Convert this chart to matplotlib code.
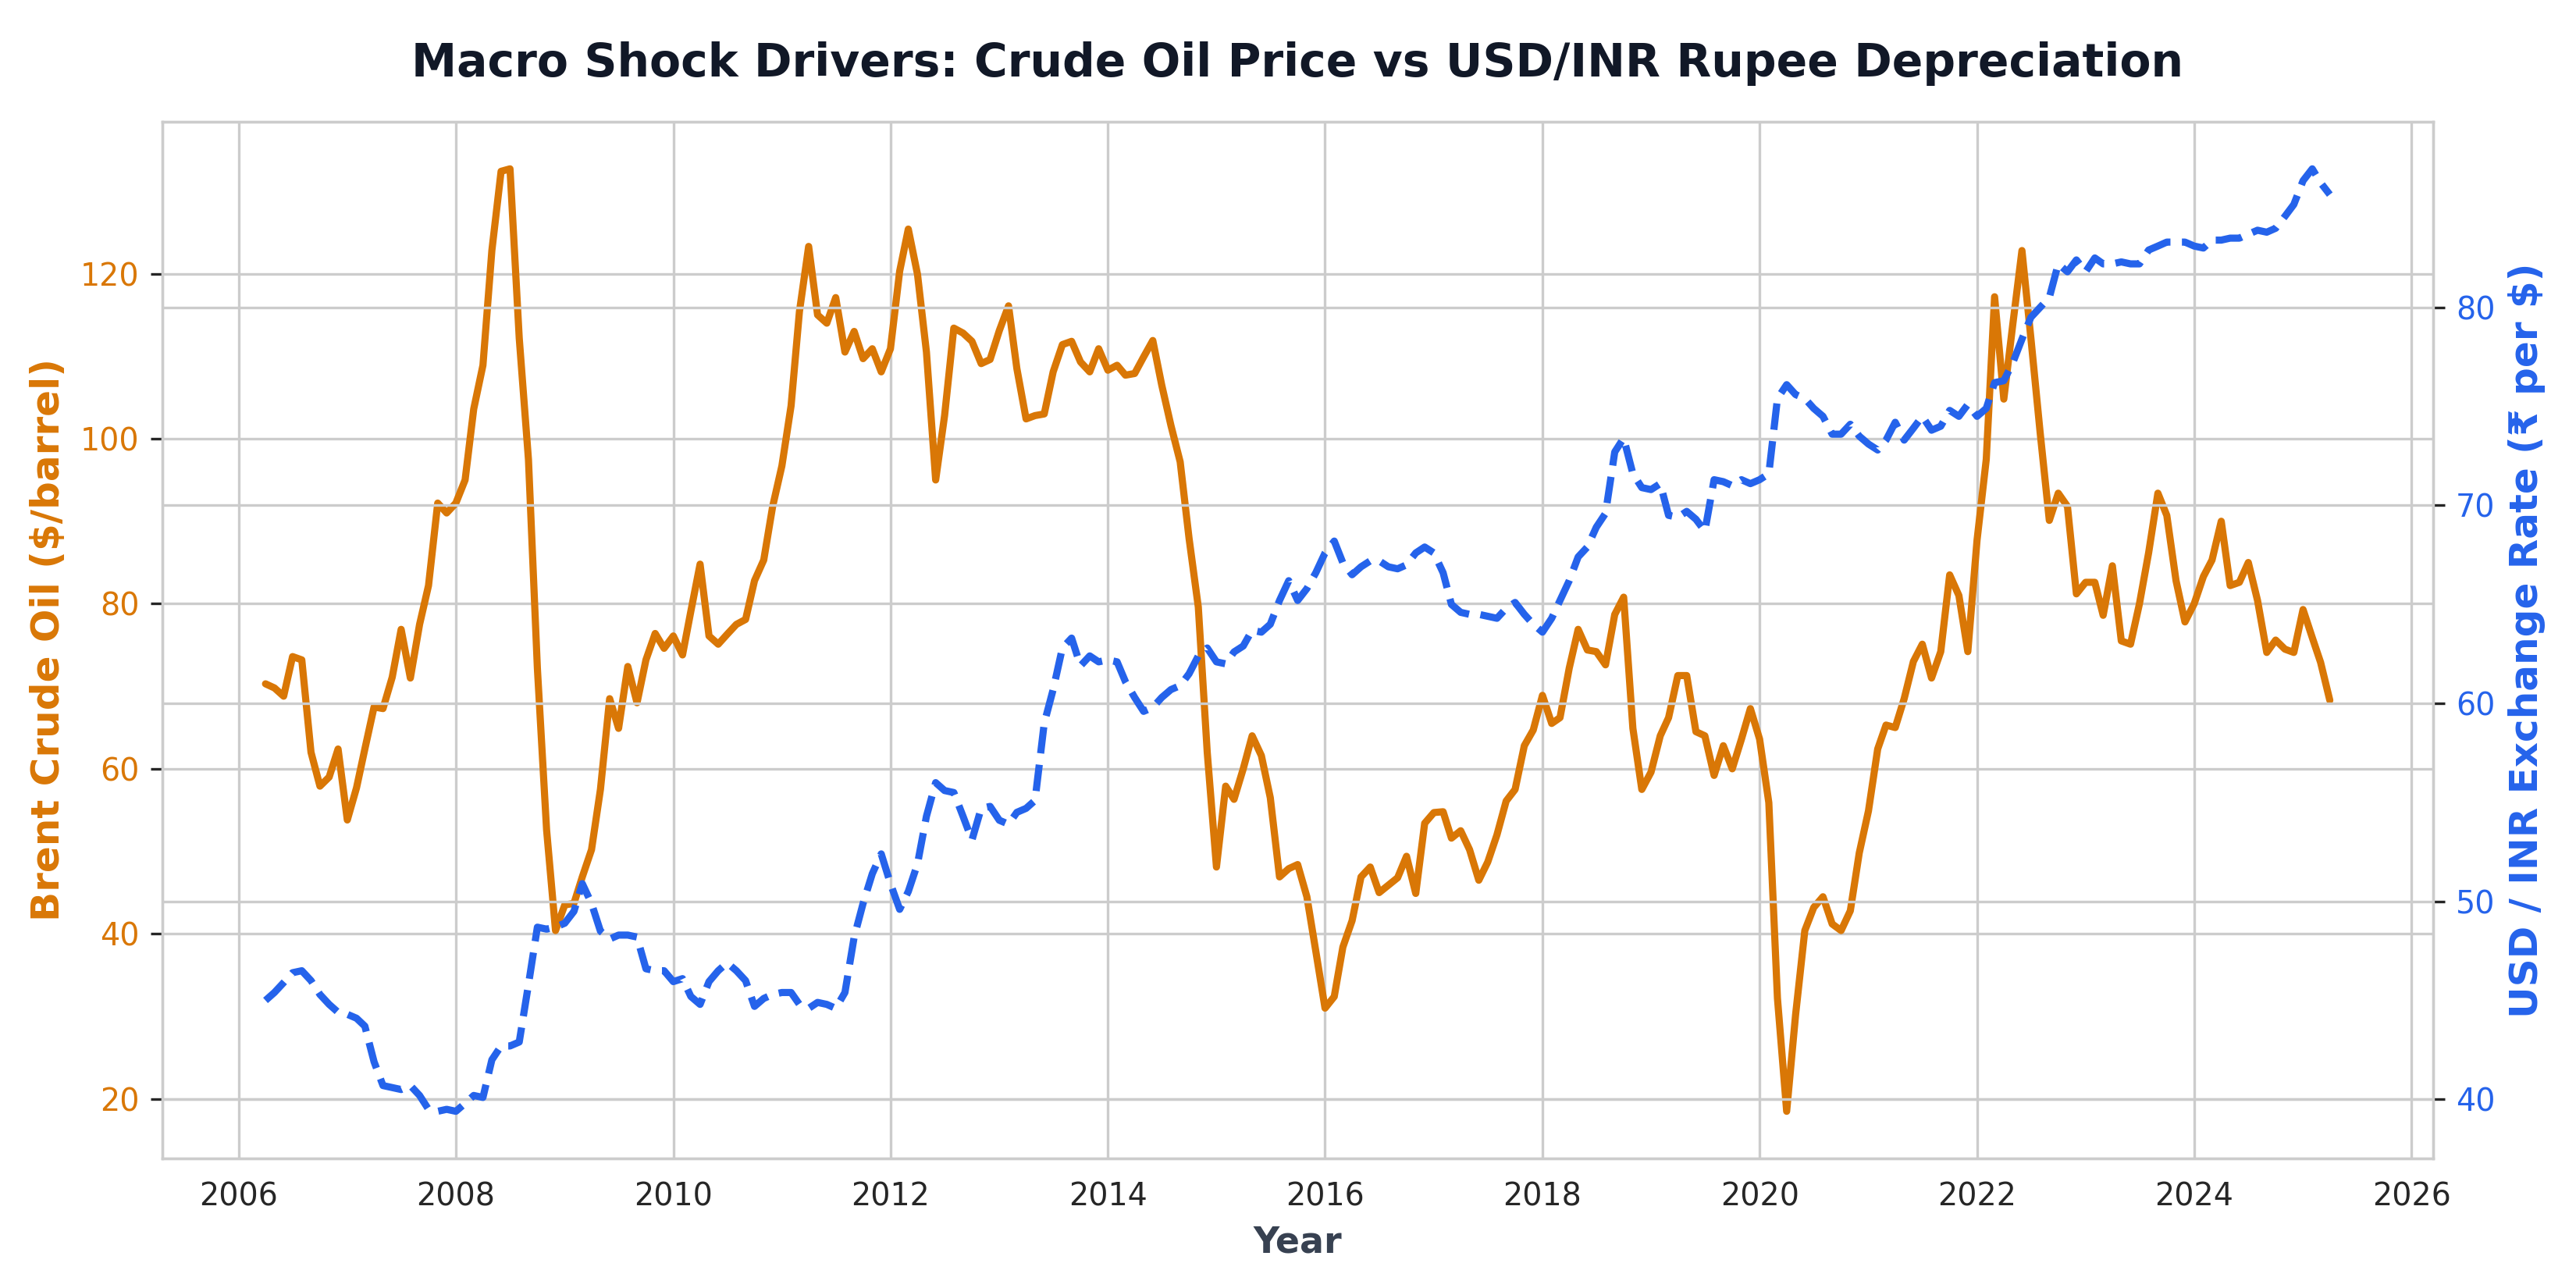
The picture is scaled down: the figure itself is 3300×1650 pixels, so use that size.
import numpy as np
import pandas as pd
import matplotlib
matplotlib.use("Agg")
import matplotlib.pyplot as plt
import seaborn as sns

# monthly series, Apr 2006 .. Apr 2025
dates = pd.date_range("2006-04-01", periods=229, freq="MS")

brent = [
    # 2006 (Apr-Dec)
    70.3, 69.8, 68.8, 73.6, 73.2, 62.0, 57.9, 59.0, 62.4,
    # 2007
    53.8, 57.7, 62.4, 67.5, 67.3, 71.1, 76.9, 71.0, 77.5, 82.2, 92.2, 91.0,
    # 2008
    92.2, 95.0, 103.6, 108.9, 122.8, 132.4, 132.7, 112.2, 97.5, 72.2, 52.6, 40.4,
    # 2009
    43.5, 43.7, 46.9, 50.2, 57.5, 68.5, 64.9, 72.4, 68.0, 73.2, 76.4, 74.6,
    # 2010
    76.1, 73.8, 79.1, 84.8, 76.1, 75.1, 76.3, 77.5, 78.1, 82.8, 85.3, 91.8,
    # 2011
    96.7, 104.0, 115.4, 123.3, 115.0, 114.0, 117.1, 110.5, 113.0, 109.7, 110.9, 108.1,
    # 2012
    110.9, 120.3, 125.4, 119.9, 110.5, 95.0, 102.8, 113.4, 112.8, 111.8, 109.1, 109.6,
    # 2013
    113.1, 116.1, 108.5, 102.4, 102.8, 103.0, 108.1, 111.4, 111.8, 109.3, 108.1, 110.9,
    # 2014
    108.3, 108.9, 107.7, 107.9, 109.9, 111.9, 106.5, 101.6, 97.2, 87.9, 79.6, 62.0,
    # 2015
    48.1, 57.9, 56.3, 60.0, 64.0, 61.6, 56.5, 46.9, 47.9, 48.4, 44.5, 37.9,
    # 2016
    31.0, 32.4, 38.4, 41.6, 46.9, 48.1, 45.0, 45.9, 46.8, 49.4, 44.9, 53.4,
    # 2017
    54.7, 54.8, 51.6, 52.5, 50.2, 46.5, 48.7, 52.0, 56.1, 57.5, 62.8, 64.7,
    # 2018
    68.9, 65.5, 66.2, 72.2, 76.9, 74.4, 74.2, 72.6, 78.7, 80.8, 64.9, 57.5,
    # 2019
    59.6, 64.0, 66.2, 71.3, 71.3, 64.5, 64.0, 59.2, 62.8, 60.0, 63.6, 67.3,
    # 2020
    63.6, 55.9, 32.2, 18.5, 30.2, 40.4, 43.2, 44.5, 41.2, 40.4, 42.8, 49.8,
    # 2021
    54.9, 62.4, 65.3, 65.0, 68.5, 73.0, 75.1, 71.0, 74.2, 83.5, 81.0, 74.2,
    # 2022
    87.7, 97.5, 117.2, 104.8, 113.8, 122.8, 112.2, 100.8, 90.1, 93.4, 91.8, 81.2,
    # 2023
    82.6, 82.6, 78.6, 84.6, 75.5, 75.1, 80.0, 86.2, 93.4, 90.7, 82.8, 77.8,
    # 2024
    80.0, 83.3, 85.3, 90.0, 82.2, 82.6, 85.0, 80.4, 74.1, 75.6, 74.5, 74.1,
    # 2025 (Jan-Apr)
    79.3, 75.9, 72.9, 68.3,
]

usd_inr = [
    # 2006 (Apr-Dec)
    45.0, 45.4, 45.9, 46.4, 46.5, 46.0, 45.3, 44.8, 44.4,
    # 2007
    44.3, 44.1, 43.7, 41.9, 40.7, 40.6, 40.5, 40.7, 40.2, 39.5, 39.4, 39.5,
    # 2008
    39.4, 39.8, 40.2, 40.1, 42.0, 42.7, 42.7, 42.9, 45.8, 48.7, 48.6, 48.7,
    # 2009
    48.9, 49.5, 50.9, 49.9, 48.5, 48.1, 48.3, 48.3, 48.2, 46.6, 46.5, 46.5,
    # 2010
    45.95, 46.1, 45.2, 44.8, 45.95, 46.5, 46.9, 46.5, 46.0, 44.7, 45.1, 45.3,
    # 2011
    45.4, 45.4, 44.8, 44.6, 44.9, 44.8, 44.6, 45.4, 48.2, 49.9, 51.4, 52.4,
    # 2012
    50.9, 49.6, 50.5, 51.9, 54.3, 56.0, 55.6, 55.5, 54.3, 53.1, 54.7, 54.8,
    # 2013
    54.1, 53.9, 54.5, 54.7, 55.1, 59.0, 60.7, 62.8, 63.3, 61.9, 62.4, 62.1,
    # 2014
    62.2, 62.1, 61.1, 60.3, 59.6, 59.8, 60.3, 60.7, 60.9, 61.5, 62.4, 62.8,
    # 2015
    62.1, 62.0, 62.6, 62.9, 63.7, 63.6, 64.0, 65.2, 66.2, 65.2, 65.8, 66.6,
    # 2016
    67.6, 68.2, 67.1, 66.5, 66.9, 67.2, 67.2, 66.9, 66.8, 67.0, 67.6, 67.9,
    # 2017
    67.6, 66.6, 65.0, 64.6, 64.5, 64.5, 64.4, 64.3, 64.8, 65.1, 64.5, 64.0,
    # 2018
    63.6, 64.3, 65.2, 66.2, 67.4, 67.9, 68.9, 69.6, 72.7, 73.4, 71.6, 70.9,
    # 2019
    70.8, 71.1, 69.5, 69.4, 69.7, 69.3, 68.7, 71.3, 71.2, 71.0, 71.3, 71.1,
    # 2020
    71.3, 71.6, 75.4, 76.1, 75.6, 75.4, 74.9, 74.5, 73.6, 73.6, 74.1, 73.5,
    # 2021
    73.1, 72.8, 73.3, 74.2, 73.3, 73.9, 74.5, 73.8, 74.0, 74.8, 74.5, 75.1,
    # 2022
    74.5, 74.9, 76.2, 76.3, 77.2, 78.4, 79.5, 80.0, 80.5, 82.2, 81.8, 82.4,
    # 2023
    81.8, 82.5, 82.2, 82.2, 82.3, 82.2, 82.2, 82.9, 83.1, 83.3, 83.3, 83.3,
    # 2024
    83.1, 83.0, 83.4, 83.4, 83.5, 83.5, 83.7, 83.9, 83.8, 84.0, 84.6, 85.2,
    # 2025 (Jan-Apr)
    86.4, 87.0, 86.3, 85.7,
]

oil_color = "#D97706"
inr_color = "#2563EB"

sns.set_style("whitegrid")
plt.rcParams["font.family"] = ["DejaVu Sans"]

fig, ax1 = plt.subplots(figsize=(11, 5.5), dpi=300)
fig.subplots_adjust(left=0.063, right=0.9445, top=0.9055, bottom=0.1006)

ax1.plot(dates, brent, color=oil_color, linewidth=2.2)
ax1.set_ylabel("Brent Crude Oil ($/barrel)", color=oil_color,
               fontsize=12, fontweight="bold")
ax1.set_xlabel("Year", color="#374151", fontsize=11, fontweight="bold")
ax1.tick_params(axis="y", labelcolor=oil_color, labelsize=9.5)
ax1.tick_params(axis="x", labelcolor="#262626", labelsize=9.5)

ax2 = ax1.twinx()
ax2.plot(dates, usd_inr, color=inr_color, linewidth=2.2, linestyle="--")
ax2.set_ylabel("USD / INR Exchange Rate (₹ per $)", color=inr_color,
               fontsize=12, fontweight="bold")
ax2.tick_params(axis="y", labelcolor=inr_color, labelsize=9.5)

ax1.set_title("Macro Shock Drivers: Crude Oil Price vs USD/INR Rupee Depreciation",
              fontsize=14, fontweight="bold", color="#111827", pad=14)

plt.savefig("out.png", dpi=300)
